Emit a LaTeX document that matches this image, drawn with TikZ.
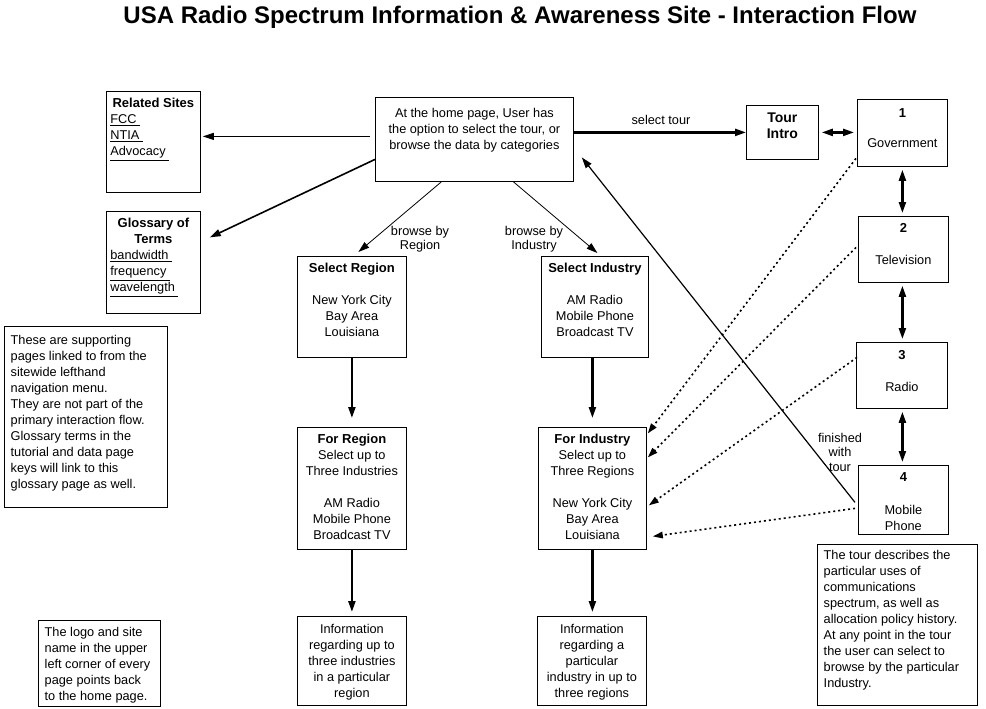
\documentclass[tikz,border=0pt]{standalone}
\usepackage{fontspec}
\setmainfont{Liberation Sans}
\usetikzlibrary{arrows.meta}
\newcommand{\pagetext}[4]{\parbox[t][#2pt][t]{#1pt}{\vspace*{#3pt}#4}}
\newcommand{\boxhead}[1]{{\fontsize{13}{16}\selectfont\bfseries #1}}

\begin{document}
\begin{tikzpicture}[x=1pt, y=-1pt, >={Triangle[length=11pt,width=7pt]}, every node/.style={font=\fontsize{12.75}{16}\selectfont}]
	\tikzstyle{box}=[draw, anchor=north west, inner xsep=4pt, inner ysep=0pt, line width=0.8pt]
	\tikzstyle{note}=[box, inner xsep=6pt, line width=1.4pt]
	\tikzstyle{annot}=[align=center, inner sep=0pt, font=\fontsize{12.75}{14.5}\selectfont]
	\tikzstyle{thin arrow}=[->, line width=0.8pt]
	\tikzstyle{mid arrow}=[->, line width=1.6pt]
	\tikzstyle{thick arrow}=[->, line width=2.2pt]
	\tikzstyle{tour step}=[<->, line width=2.2pt, shorten <=3pt, shorten >=3pt]
	\tikzstyle{dot arrow}=[-{Triangle[length=10pt,width=6.5pt]}, line width=1.6pt, dash pattern=on 2pt off 3pt]
	
	\useasboundingbox (0,0) rectangle (986,709);
	
	% Title
	\node[font=\fontsize{24}{28}\selectfont\bfseries] (title) at (520,17) {USA Radio Spectrum Information \& Awareness Site - Interaction Flow};
	
	% Draw the supporting pages
	\node[box] (rel) at (106,91) {\pagetext{86}{101}{7}{\centerline{\boxhead{Related Sites}}\underline{FCC\ }\\\underline{NTIA\ }\\\underline{Advocacy\ }}};
	\node[box] (glos) at (106,211) {\pagetext{86}{102}{7}{\centerline{\boxhead{Glossary of}}\centerline{\boxhead{Terms}}\underline{bandwidth\ }\\\underline{frequency\ }\\\underline{wavelength\ }}};
	
	% Draw the home page
	\node[box] (home) at (375,97) {\pagetext{190}{84}{11}{\centering At the home page, User has\\the option to select the tour, or\\browse the data by categories}};
	
	% Draw the tour
	\node[box] (tour) at (746,105) {\pagetext{64}{54}{7}{\centering\fontsize{14}{16}\selectfont\bfseries Tour\\Intro}};
	\node[box] (gov) at (857,99) {\pagetext{82}{67}{9}{\centering\boxhead{1}\\[14pt]Government}};
	\node[box] (tv) at (858,216) {\pagetext{82}{66}{7}{\centering\boxhead{2}\\[16pt]Television}};
	\node[box] (radio) at (856,342) {\pagetext{83}{66}{8}{\centering\boxhead{3}\\[16pt]Radio}};
	\node[box] (mobile) at (858,465) {\pagetext{82}{69}{7}{\centering\boxhead{4}\\[17pt]Mobile\\Phone}};
	
	% Draw the region branch
	\node[box] (selreg) at (297,256) {\pagetext{101}{101}{7}{\centering\boxhead{Select Region}\\[16pt]New York City\\Bay Area\\Louisiana}};
	\node[box] (forreg) at (297,427) {\pagetext{101}{122}{7}{\centering\boxhead{For Region}\\Select up to\\Three Industries\\[16pt]AM Radio\\Mobile Phone\\Broadcast TV}};
	\node[box] (inforeg) at (297,616) {\pagetext{101}{89}{8}{\centering Information\\regarding up to\\three industries\\in a particular\\region}};
	
	% Draw the industry branch
	\node[box] (selind) at (541,256) {\pagetext{99}{101}{7}{\centering\boxhead{Select Industry}\\[16pt]AM Radio\\Mobile Phone\\Broadcast TV}};
	\node[box] (forind) at (538,427) {\pagetext{100}{122}{7}{\centering\boxhead{For Industry}\\Select up to\\Three Regions\\[16pt]New York City\\Bay Area\\Louisiana}};
	\node[box] (infoind) at (537,616) {\pagetext{101}{89}{8}{\centering Information\\regarding a\\particular\\industry in up to\\three regions}};
	
	% Draw the notes
	\node[note] (notesupport) at (4,326) {\pagetext{151}{181}{9}{\raggedright These are supporting\\pages linked to from the\\sitewide lefthand\\navigation menu.\\They are not part of the\\primary interaction flow.\\Glossary terms in the\\tutorial and data page\\keys will link to this\\glossary page as well.}};
	\node[note] (notelogo) at (38,620) {\pagetext{110}{86}{7}{\raggedright The logo and site\\name in the upper\\left corner of every\\page points back\\to the home page.}};
	\node[note] (notetour) at (817,544) {\pagetext{148}{161}{6}{\raggedright The tour describes the\\particular uses of\\communications\\spectrum, as well as\\allocation policy history.\\At any point in the tour\\the user can select to\\browse by the particular\\Industry.}};
	
	% Draw arrows from the home page
	\path[thin arrow] ([xshift=-5pt,yshift=3pt]home.west) edge ([xshift=2pt,yshift=5.5pt]rel.east);
	\path[mid arrow] ([yshift=-20pt]home.west) edge ([xshift=9pt,yshift=25pt]glos.east);
	\path[thin arrow] ([xshift=-33pt]home.south) edge ([xshift=6.5pt,yshift=4pt]selreg.north);
	\path[thin arrow] ([xshift=39pt]home.south) edge ([xshift=2.5pt,yshift=3pt]selind.north);
	\path[thick arrow] (home.east |- tour.west) edge (tour.west);
	
	% Draw the tour steps
	\path[tour step] (tour.east) edge (gov.west |- tour.east);
	\path[tour step] (gov.south) edge (gov.south |- tv.north);
	\path[tour step] (gov.south |- tv.south) edge (gov.south |- radio.north);
	\path[tour step] (gov.south |- radio.south) edge (gov.south |- mobile.north);
	\path[thin arrow, line width=1.2pt] ([xshift=-3pt,yshift=-2.5pt]mobile.west) edge ([xshift=8pt,yshift=-18pt]home.east);
	
	% Dotted jumps from the tour
	\path[dot arrow] ([xshift=-1pt,yshift=-25.5pt]gov.west) edge ([xshift=1pt,yshift=55pt]forind.east);
	\path[dot arrow] ([xshift=-2pt,yshift=2pt]tv.west) edge ([xshift=1pt,yshift=31pt]forind.east);
	\path[dot arrow] ([xshift=1pt,yshift=18pt]radio.west) edge ([xshift=2pt,yshift=-17pt]forind.east);
	\path[dot arrow] ([xshift=-3pt,yshift=-8.5pt]mobile.west) edge ([xshift=6pt,yshift=-48pt]forind.east);
	
	% Draw the branch arrows
	\path[thick arrow, shorten >=9pt] (selreg.south) edge (forreg.north);
	\path[thick arrow, shorten >=9pt] (forind.north |- selind.south) edge (forind.north);
	\path[thick arrow, shorten >=4pt] (forreg.south) edge (inforeg.north);
	\path[thick arrow, shorten >=4pt] (forind.south) edge (forind.south |- infoind.north);
	
	% Annotate the arrows
	\node[annot] (selecttour) at (661,120) {select tour};
	\node[annot] (byregion) at (420,239) {browse by\\Region};
	\node[annot] (byindustry) at (534,239) {browse by\\Industry};
	\node[annot] (finished) at (840,452) {finished\\with\\tour};
\end{tikzpicture}
\end{document}
